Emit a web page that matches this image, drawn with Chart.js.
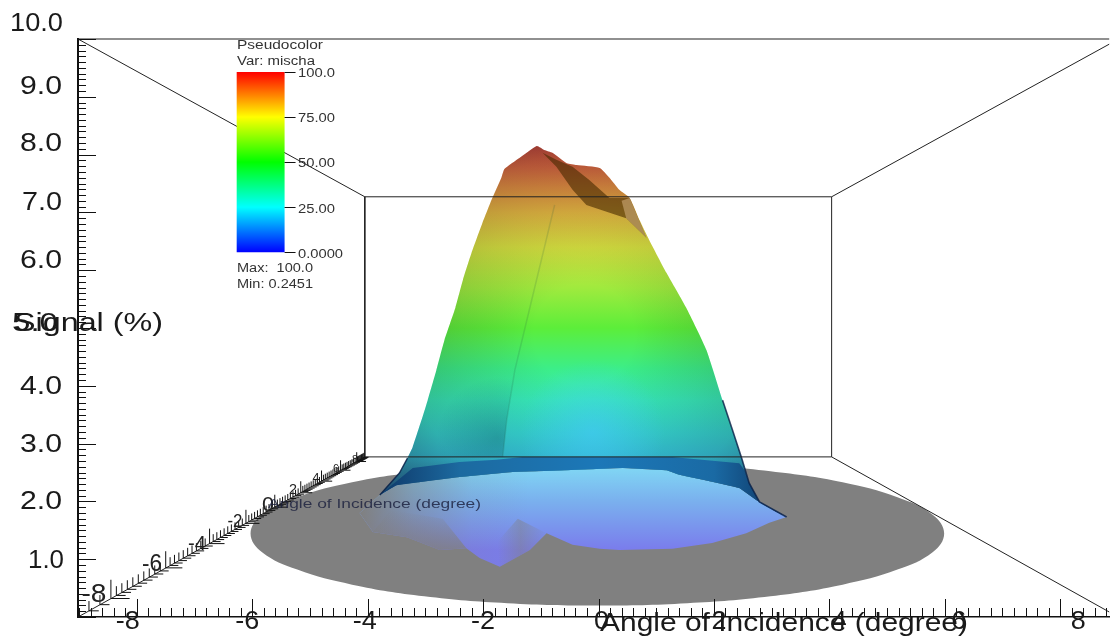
<!DOCTYPE html>
<html><head><meta charset="utf-8">
<style>html,body{margin:0;padding:0;background:#fff}canvas{display:block}</style>
<script src="https://cdn.jsdelivr.net/npm/chart.js@4"></script>
</head><body><canvas id="c" width="1110" height="637"></canvas>
<script>
// ---- tick values
const yTickValues=[1,2,3,4,5,6,7,8,9,10];
const yTickLabels=['1.0','2.0','3.0','4.0','5.0','6.0','7.0','8.0','9.0','10.0'];
const xTickValues=[-8,-6,-4,-2,0,2,4,6,8];
const xTickLabels=['-8','-6','-4','-2','0','2','4','6','8'];
const depthLabels=['-8','-6','-4','-2','0','2','4','6','8'];
const depthTickX=[-9.02,-8.45,-7.50,-6.74,-6.11,-5.61,-5.16,-4.80,-4.47,-4.19,-4.05];
const depthTickY=[0,0.32,0.85,1.27,1.62,1.90,2.15,2.35,2.54,2.69,2.77];
const colorbarValues=[0,25,50,75,100];
const colorbarLabels=['0.0000','25.00','50.00','75.00','100.0'];
// ---- marks
const boxBack=[[-4.05,2.77],[4.04,2.77],[4.04,7.27],[-4.05,7.27],[-4.05,2.77]];
const boxTop=[[-9.02,10],[8.85,10]];
const diagTL=[[-9.02,10],[-4.05,7.27]];
const diagTR=[[8.85,9.91],[4.04,7.27]];
const diagBL=[[-9.02,0],[-4.05,2.77]];
const diagBR=[[8.85,0.087],[4.04,2.77]];
const discOutline=[[-0.02,2.69],[-1.58,2.65],[-3.02,2.52],[-4.27,2.33],[-5.22,2.07],[-5.83,1.77],[-6.03,1.445],[-5.83,1.12],[-5.22,0.82],[-4.27,0.56],[-3.02,0.36],[-1.58,0.24],[-0.02,0.2],[1.54,0.24],[2.98,0.36],[4.23,0.56],[5.18,0.82],[5.79,1.12],[5.99,1.445],[5.79,1.77],[5.18,2.07],[4.23,2.33],[2.98,2.52],[1.54,2.65],[-0.02,2.69]];
const surfaceUpper=[[-3.79,2.11],[-3.45,2.49],[-3.31,2.75],[-3.22,2.94],[-3.05,3.46],[-2.96,3.75],[-2.81,4.27],[-2.67,4.79],[-2.48,5.35],[-2.35,5.83],[-2.20,6.30],[-2.01,6.82],[-1.84,7.25],[-1.68,7.61],[-1.63,7.75],[-1.37,7.94],[-1.07,8.15],[-0.94,8.08],[-0.80,8.03],[-0.55,7.85],[-0.38,7.82],[0.02,7.77],[0.19,7.60],[0.36,7.39],[0.54,7.25],[0.71,6.87],[0.88,6.52],[1.18,5.95],[1.52,5.35],[1.87,4.62],[2.15,3.75],[2.32,3.24],[2.48,2.75],[2.61,2.32],[2.79,1.99],[3.26,1.73]];
const surfaceBase=[[2.74,2.02],[2.44,2.23],[1.97,2.34],[1.40,2.46],[1.18,2.54],[0.42,2.58],[-0.03,2.56],[-0.80,2.53],[-1.49,2.51],[-2.41,2.42],[-3.05,2.34],[-3.50,2.28],[-3.79,2.11]];
const skirtTop=[[-3.79,2.11],[-3.22,2.58],[-2.41,2.68],[-1.77,2.72],[-1.32,2.77],[1.28,2.77],[2.44,2.66],[2.53,2.54],[2.61,2.32],[2.79,1.99],[3.26,1.73]];
const domeLower=[[3.26,1.73],[2.96,1.63],[2.56,1.45],[1.97,1.28],[1.28,1.18],[0.36,1.16],[0.02,1.18],[-0.45,1.25],[-0.90,1.45],[-1.19,1.16],[-1.71,0.87],[-2.06,1.02],[-2.29,1.19],[-2.75,1.16],[-3.32,1.38],[-3.91,1.47],[-4.14,1.80],[-3.79,2.11]];
const lobeRight=[[-0.90,1.45],[-1.19,1.16],[-1.71,0.87],[-1.75,1.3],[-1.4,1.7]];
const lobeLeft=[[-2.29,1.19],[-2.75,1.16],[-3.32,1.38],[-3.91,1.47],[-3.6,1.85],[-2.7,1.7]];
const foldLine=[[-0.76,7.13],[-1.19,5.35],[-1.45,4.27],[-1.59,3.41],[-1.66,2.77]];
const foldShade=[[-0.76,7.13],[-1.19,5.35],[-1.45,4.27],[-1.59,3.41],[-1.66,2.77],[-3.0,2.77],[-3.0,5.35],[-1.02,7.13]];
const flap=[[-0.97,8.03],[-0.73,7.79],[-0.45,7.39],[-0.21,7.13],[0.14,7.01],[0.48,6.90],[0.83,6.56],[0.54,7.25],[0.19,7.25],[-0.16,7.56],[-0.45,7.79],[-0.73,7.91]];
const flapTip=[[0.54,7.25],[0.83,6.56],[0.48,6.90],[0.40,7.2]];
const edgeRight=[[2.15,3.75],[2.32,3.24],[2.48,2.75],[2.61,2.32],[2.79,1.99],[3.26,1.73]];
const edgeLeft=[[-3.31,2.75],[-3.45,2.49],[-3.79,2.11]];
const colorbar=[[-6.27,6.31],[-5.44,6.31],[-5.44,9.43],[-6.27,9.43]];
// ---- colour ramps, by height on the value axis
const surfaceLevels=[8.15,7.77,7.43,7.0,6.4,5.7,5.0,4.3,3.75,3.2,2.77,2.1];
const surfaceColors=['#d04a3c','#e26c42','#e89242','#e8ba42','#d6e040','#a0ea3e','#5cee3a','#3cee88','#38ecbc','#36dcd8','#36cce6','#2a80b8'];
const xy=a=>a.map(p=>({x:p[0],y:p[1]}));
const ready=chart=>chart.chartArea&&chart.scales.x&&chart.scales.y&&isFinite(chart.scales.y.getPixelForValue(1))&&isFinite(chart.scales.x.getPixelForValue(1));
function vGrad(chart,levels,colors){if(!ready(chart))return 'rgba(0,0,0,0)';const s=chart.scales.y,y0=s.getPixelForValue(levels[0]),y1=s.getPixelForValue(levels[levels.length-1]);
  const g=chart.ctx.createLinearGradient(0,y0,0,y1);
  levels.forEach((v,i)=>g.addColorStop((s.getPixelForValue(v)-y0)/(y1-y0),colors[i]));return g;}
function hGrad(chart,levels,colors){if(!ready(chart))return 'rgba(0,0,0,0)';const s=chart.scales.x,x0=s.getPixelForValue(levels[0]),x1=s.getPixelForValue(levels[levels.length-1]);
  const g=chart.ctx.createLinearGradient(x0,0,x1,0);
  levels.forEach((v,i)=>g.addColorStop((s.getPixelForValue(v)-x0)/(x1-x0),colors[i]));return g;}
function rGrad(chart,cx,cy,r,stops){if(!ready(chart))return 'rgba(0,0,0,0)';const X=chart.scales.x,Y=chart.scales.y,px=X.getPixelForValue(cx),py=Y.getPixelForValue(cy),pr=Math.abs(X.getPixelForValue(cx+r)-px);
  const g=chart.ctx.createRadialGradient(px,py,0,px,py,pr);stops.forEach(s=>g.addColorStop(s[0],s[1]));return g;}
const poly=(pts,bg,extra)=>Object.assign({data:xy(pts),showLine:true,fill:'shape',borderWidth:0,pointRadius:0,backgroundColor:bg,tension:0},extra||{});
const stroke=(pts,col,w,extra)=>Object.assign({data:xy(pts),showLine:true,fill:false,borderColor:col,borderWidth:w,pointRadius:0,tension:0,clip:4},extra||{});
const outline=surfaceUpper.concat(surfaceBase);
const skirt=skirtTop.concat(surfaceBase);
const dome=surfaceBase.slice().reverse().concat(domeLower);
const soft={tension:0.15};
// first dataset is painted last
const datasets=[
  poly(colorbar,c=>vGrad(c.chart,[9.43,8.65,7.87,7.09,6.31],['#ff0000','#ffff00','#00ff00','#00ffff','#0000ff'])),
  stroke(boxBack,'#222',1),stroke(boxTop,'#222',1.2),stroke(diagTL,'#222',1),stroke(diagTR,'#222',1),stroke(diagBL,'#222',1),stroke(diagBR,'#222',1),
  stroke(edgeRight,'rgba(8,30,70,.8)',1.6),stroke(edgeLeft,'rgba(8,30,70,.85)',1.4),
  poly(skirt,c=>hGrad(c.chart,[-3.6,-2.4,0,2,3],['#103f70','#1c6aa0','#1c78b8','#1a6aa4','#0f3c6c'])),
  poly(flapTip,'rgba(205,170,120,.6)'),
  poly(flap,'rgba(70,42,0,.6)'),
  stroke(foldLine,'rgba(30,90,60,.16)',1.5),
  poly(foldShade,c=>rGrad(c.chart,-1.75,3.1,1.05,[[0,'rgba(0,45,55,.24)'],[1,'rgba(0,45,55,0)']])),
  poly(outline,c=>rGrad(c.chart,-0.1,3.2,1.25,[[0,'rgba(70,200,255,.55)'],[1,'rgba(70,200,255,0)']]),soft),
  poly(outline,c=>rGrad(c.chart,-0.25,4.9,4.3,[[0,'rgba(0,0,0,0)'],[0.2,'rgba(0,0,0,0)'],[0.5,'rgba(20,20,20,.12)'],[0.72,'rgba(20,20,20,.22)'],[1,'rgba(20,20,40,.5)']]),soft),
  poly(outline,c=>vGrad(c.chart,surfaceLevels,surfaceColors),soft),
  poly(lobeRight,c=>hGrad(c.chart,[-1.75,-1.35,-0.9],['rgba(128,128,128,0)','rgba(128,128,128,.45)','rgba(128,128,128,.05)'])),
  poly(lobeLeft,c=>vGrad(c.chart,[1.85,1.5,1.16],['rgba(128,128,128,0)','rgba(128,128,128,.4)','rgba(128,128,128,.8)'])),
  poly(dome,c=>hGrad(c.chart,[-4.14,-3.2,-2.2,-1.2],['rgba(128,128,128,1)','rgba(128,128,128,.5)','rgba(128,128,128,.12)','rgba(128,128,128,0)'])),
  poly(dome,c=>vGrad(c.chart,[2.58,2.0,1.16],['#80d6f4','#7ab0ee','#7a7cec'])),
  poly(discOutline,'#808080',{tension:0.4})
];
function stretched(ctx,text,x,cy,size,width,center,color){ctx.save();ctx.font=size+'px "Liberation Sans"';ctx.textBaseline='middle';ctx.textAlign='left';ctx.fillStyle=color||'#1a1a1a';
  const m=ctx.measureText(text).width;ctx.translate(center?x-width/2:x,cy+2);ctx.scale(width/m,1);ctx.fillText(text,0,0);ctx.restore();}
function seg(ctx,a,b,c,d){ctx.moveTo(a,b);ctx.lineTo(c,d);}
const axesDecor={id:'axesDecor',afterDraw(chart){
  const ctx=chart.ctx,X=chart.scales.x,Y=chart.scales.y;
  ctx.save();ctx.strokeStyle='#111';ctx.lineWidth=1;ctx.beginPath();
  const ax=X.getPixelForValue(X.min),ay=Y.getPixelForValue(0);
  for(let i=0;i<=100;i++){const v=i/10,p=Math.round(Y.getPixelForValue(v))+.5;seg(ctx,ax,p,ax+(i%10==0?18:8),p);}
  for(let i=-45;i<=44;i++){const v=i/5,p=Math.round(X.getPixelForValue(v))+.5;seg(ctx,p,ay,p,ay-(i%10==0?18:9));}
  depthTickX.forEach((dx,i)=>{if(i==depthTickX.length-1)return;const sub=(i==0)?3:10;
    for(let k=0;k<sub;k++){const f=k/sub,vx=dx+(depthTickX[i+1]-dx)*f,vy=depthTickY[i]+(depthTickY[i+1]-depthTickY[i])*f;
      const px=X.getPixelForValue(vx),py=Y.getPixelForValue(vy),t=(px-ax)/287,sc=1-.55*t,major=(i>0&&k==0),L=(major?20:10)*sc;
      seg(ctx,px,py,px,py-L);seg(ctx,px,py,px+L,py);}
  });
  ctx.stroke();
  ctx.beginPath();colorbarValues.forEach(v=>{const p=Math.round(Y.getPixelForValue(6.31+v*0.0312))+.5;seg(ctx,chart.scales.x.getPixelForValue(-5.44),p,chart.scales.x.getPixelForValue(-5.25),p);});ctx.stroke();
  ctx.restore();
  // y tick labels
  const yOff=[0,-1,0,-1,-6,-11,-11,-12,-12,-17],yLeft=[28,20,20,20,12,20,22,20,20,10],yW=[36,42,42,42,46,42,40,42,42,53];
  yTickValues.forEach((v,i)=>stretched(ctx,yTickLabels[i],yLeft[i],Y.getPixelForValue(v)+yOff[i],25,yW[i]));
  const xOff=[-9,-5,-3,0,3,5,10,14,18];
  xTickValues.forEach((v,i)=>stretched(ctx,xTickLabels[i],X.getPixelForValue(v)+xOff[i],620,25,v<0?24:15,true));
  // depth tick labels shrink with distance
  const dPos=[[94,593,25,25],[152,563,23,20],[197,542,20,18],[235,520,18,15],[268,503,20,12],[293,488,14,8],[316,477,12,7],[336,467,11,6],[355,458,10,6]];
  depthLabels.forEach((t,i)=>stretched(ctx,t,dPos[i][0],dPos[i][1],dPos[i][2],dPos[i][3],true,'#222'));
  // axis titles
  stretched(ctx,'Signal (%)',14,322,25,149);
  stretched(ctx,'Angle of Incidence (degree)',600,622,25,368);
  stretched(ctx,'Angle of Incidence (degree)',268,502,13,213,false,'rgba(25,30,60,.8)');
  // legend text
  stretched(ctx,'Pseudocolor',237,44,12,86,false,'#333');
  stretched(ctx,'Var: mischa',237,60,12,78,false,'#333');
  colorbarValues.forEach((v,i)=>stretched(ctx,colorbarLabels[i],298,Y.getPixelForValue(6.31+v*0.0312),12,v==0?45:37,false,'#333'));
  stretched(ctx,'Max:  100.0',237,267,12,76,false,'#333');
  stretched(ctx,'Min: 0.2451',237,283,12,76,false,'#333');
}};
const chart=new Chart(document.getElementById('c'),{type:'scatter',data:{datasets},plugins:[axesDecor],options:{
  responsive:false,animation:false,events:[],
  layout:{padding:{left:78,top:39,right:0,bottom:20}},
  plugins:{legend:{display:false},tooltip:{enabled:false},title:{display:false},filler:{drawTime:'beforeDatasetDraw'}},
  scales:{
    x:{type:'linear',min:-9.02,max:8.85,afterBuildTicks:s=>{s.ticks=xTickValues.map(value=>({value}));},ticks:{display:false},grid:{drawOnChartArea:false,drawTicks:false},border:{color:'#111',width:1.5}},
    y:{type:'linear',min:0,max:10,afterBuildTicks:s=>{s.ticks=yTickValues.map(value=>({value}));},ticks:{display:false},grid:{drawOnChartArea:false,drawTicks:false},border:{color:'#111',width:2}}
  }
}});
chart.update();
</script></body></html>
